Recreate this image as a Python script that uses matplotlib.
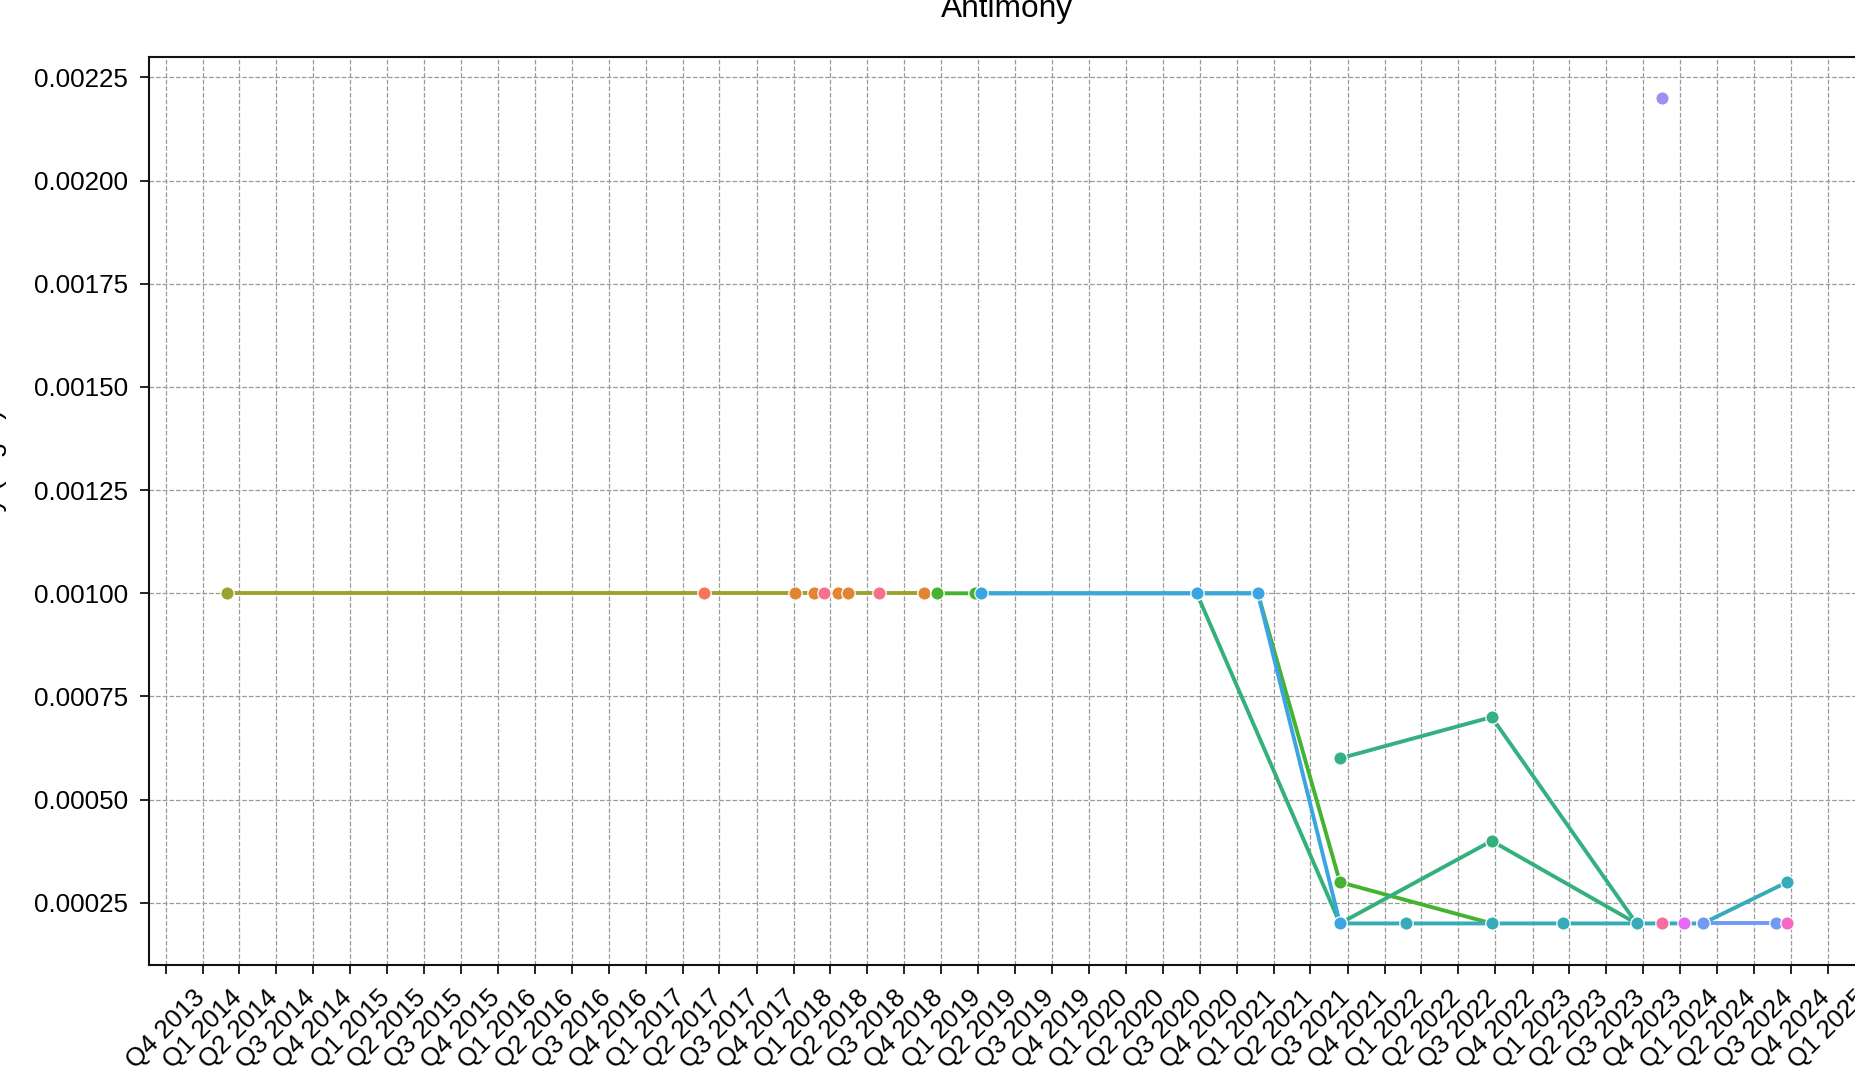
import matplotlib
matplotlib.use("Agg")
import matplotlib.pyplot as plt
import matplotlib.dates as mdates
import matplotlib.ticker as mticker
import pandas as pd
from seaborn.external import husl

plt.rcParams['font.family'] = ['Liberation Sans', 'DejaVu Sans']

# ---------------- data ----------------
title = "Antimony"
ylabel = "Antimony (mg/L)"

tick_start = "2013-10-01"
tick_end = "2025-01-01"

olive_dates = ["2014-03-02", "2018-11-19"]
olive_vals = [0.001, 0.001]

salmon_dates = ["2017-05-24"]
salmon_vals = [0.001]

orange_dates = ["2018-01-04", "2018-02-19", "2018-04-20", "2018-05-16", "2018-11-19"]
orange_vals = [0.001, 0.001, 0.001, 0.001, 0.001]

pink_dates = ["2018-03-17", "2018-07-30"]
pink_vals = [0.001, 0.001]

green_dates = ["2018-12-22", "2019-03-24", "2021-02-21", "2021-09-12", "2022-09-22"]
green_vals = [0.001, 0.001, 0.001, 0.0003, 0.0002]

tealgreen_a_dates = ["2020-09-23", "2021-09-12", "2022-09-22", "2023-09-15"]
tealgreen_a_vals = [0.001, 0.0002, 0.0004, 0.0002]

tealgreen_b_dates = ["2021-09-12", "2022-09-22", "2023-09-15"]
tealgreen_b_vals = [0.0006, 0.0007, 0.0002]

tealblue_dates = ["2021-09-12", "2022-02-22", "2022-09-22", "2023-03-17",
                  "2023-09-15", "2024-02-26", "2024-09-21"]
tealblue_vals = [0.0002, 0.0002, 0.0002, 0.0002, 0.0002, 0.0002, 0.0003]

blue_dates = ["2019-04-09", "2020-09-23", "2021-02-21", "2021-09-12"]
blue_vals = [0.001, 0.001, 0.001, 0.0002]

periwinkle_dates = ["2024-02-26", "2024-08-26"]
periwinkle_vals = [0.0002, 0.0002]

pinkred_dates = ["2023-11-18"]
pinkred_vals = [0.0002]

purple_dates = ["2023-11-18"]
purple_vals = [0.0022]

magenta_dates = ["2024-01-10"]
magenta_vals = [0.0002]

pink2_dates = ["2024-09-21"]
pink2_vals = [0.0002]

# (dates, values, husl hue, connected)
series = [
    (olive_dates, olive_vals, 90, True),
    (salmon_dates, salmon_vals, 20, False),
    (orange_dates, orange_vals, 36, False),
    (pink_dates, pink_vals, 2, False),
    (green_dates, green_vals, 125, True),
    (tealgreen_a_dates, tealgreen_a_vals, 148, True),
    (tealgreen_b_dates, tealgreen_b_vals, 155, True),
    (tealblue_dates, tealblue_vals, 205, True),
    (blue_dates, blue_vals, 238, True),
    (periwinkle_dates, periwinkle_vals, 255, True),
    (pinkred_dates, pinkred_vals, 352, True),
    (purple_dates, purple_vals, 272, True),
    (magenta_dates, magenta_vals, 302, True),
    (pink2_dates, pink2_vals, 332, True),
]

# ---------------- figure ----------------
W, H = 1856, 1082
fig = plt.figure(figsize=(W / 100, H / 100), dpi=100)
left, right, top, bottom = 149, 1865, 56.8, 964.7
ax = fig.add_axes([left / W, 1 - bottom / H, (right - left) / W, (bottom - top) / H])

for d, v, hue, line in series:
    col = husl.husl_to_hex(hue, 89.1, 64.35)
    ax.plot(pd.to_datetime(d), v, color=col, lw=2.8 if line else 0,
            ls='-' if line else 'None', marker='o', ms=9.6,
            mec='white', mew=0.9, solid_capstyle='butt')

ax.margins(x=0.05, y=0.05)

qticks = pd.date_range(tick_start, tick_end, freq='QS')
ax.set_xticks(mdates.date2num(qticks))
ax.set_xticklabels([f"Q{t.quarter} {t.year}" for t in qticks], rotation=45, ha='center')
ax.yaxis.set_major_locator(mticker.MultipleLocator(0.00025))
ax.yaxis.set_major_formatter(mticker.FormatStrFormatter('%.5f'))

ax.set_axisbelow(True)
ax.grid(True, which='major', axis='both', ls='--', lw=0.9, color='#9a9a9a')
ax.tick_params(axis='both', labelsize=18.7, length=6.5, width=1.2, pad=8.6, color='black')
for s in ax.spines.values():
    s.set_linewidth(1.5)
    s.set_color('#111111')

ax.set_title(title, fontsize=22.8, pad=28.5)
fig.text(7.5 / W, 1 - 511 / H, ylabel, rotation=90, ha='right', va='center', fontsize=20)

fig.savefig("out.png", dpi=100)
